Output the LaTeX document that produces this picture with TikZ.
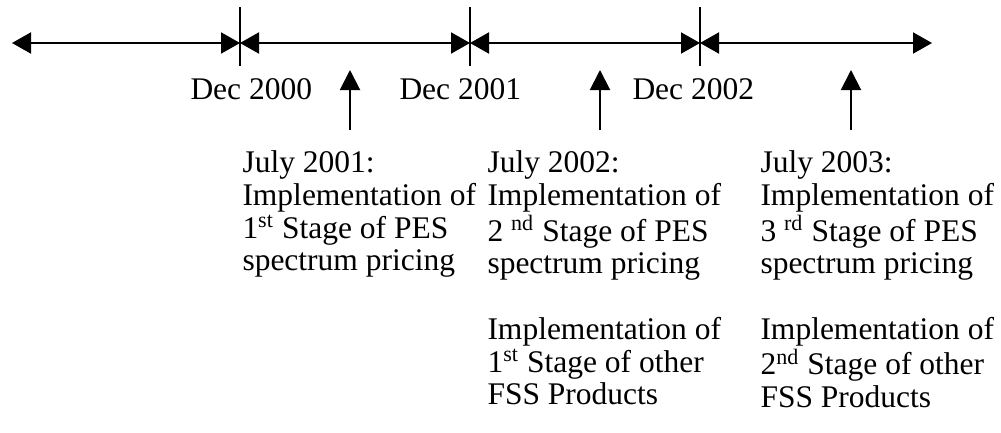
\documentclass[tikz,border=0pt]{standalone}
\usepackage{fontspec}
\setmainfont{Liberation Serif}
\usetikzlibrary{arrows.meta}
\newcommand{\blocktext}[1]{\renewcommand{\arraystretch}{1}\begin{tabular}[t]{@{}l@{}}#1\end{tabular}}
\begin{document}
\begin{tikzpicture}[x=0.4pt,y=-0.4pt,
  seg/.style={line width=0.8pt,{Triangle[length=7.6pt,width=8.4pt]}-{Triangle[length=7.6pt,width=8.4pt]}},
  tick/.style={line width=0.7pt},
  uparrow/.style={line width=0.8pt,-{Triangle[length=8pt,width=8pt]}},
  lbl/.style={anchor=base west,inner sep=0pt,font=\fontsize{12.6}{13}\selectfont},
]
\useasboundingbox (0,0) rectangle (1001,433);
% timeline points
\coordinate (L) at (12,43);
\coordinate (T1) at (240,43);
\coordinate (T2) at (470,43);
\coordinate (T3) at (700,43);
\coordinate (R) at (932,43);
\draw[seg] (L) -- (T1);
\draw[seg] (T1) -- (T2);
\draw[seg] (T2) -- (T3);
\draw[seg] (T3) -- (R);
% ticks
\foreach \n/\x in {1/240,2/470,3/700}{
  \coordinate (t\n a) at (\x,7);
  \coordinate (t\n b) at (\x,66);
  \draw[tick] (t\n a) -- (t\n b);
}
% Dec labels
\node[lbl] (d1) at (190,99) {Dec 2000};
\node[lbl] (d2) at (399,99) {Dec 2001};
\node[lbl] (d3) at (632,99) {Dec 2002};
% up arrows
\foreach \n/\x in {1/350,2/600,3/851}{
  \coordinate (u\n a) at (\x,130);
  \coordinate (u\n b) at (\x,70);
  \draw[uparrow] (u\n a) -- (u\n b);
}
% text blocks
\node[lbl] (j1) at (242,172.7) {\blocktext{July 2001:\\Implementation of\\1\textsuperscript{st} Stage of PES\\spectrum pricing}};
\node[lbl] (j2) at (487,172.7) {\blocktext{July 2002:\\Implementation of\\2 \textsuperscript{nd} Stage of PES\\spectrum pricing}};
\node[lbl] (j3) at (760,172.7) {\blocktext{July 2003:\\Implementation of\\3 \textsuperscript{rd} Stage of PES\\spectrum pricing}};
\node[lbl] (f1) at (487,339) {\blocktext{Implementation of\\1\textsuperscript{st} Stage of other\\FSS Products}};
\node[lbl] (f2) at (760,339) {\blocktext{Implementation of\\2\textsuperscript{nd} Stage of other\\FSS Products}};
\end{tikzpicture}
\end{document}
